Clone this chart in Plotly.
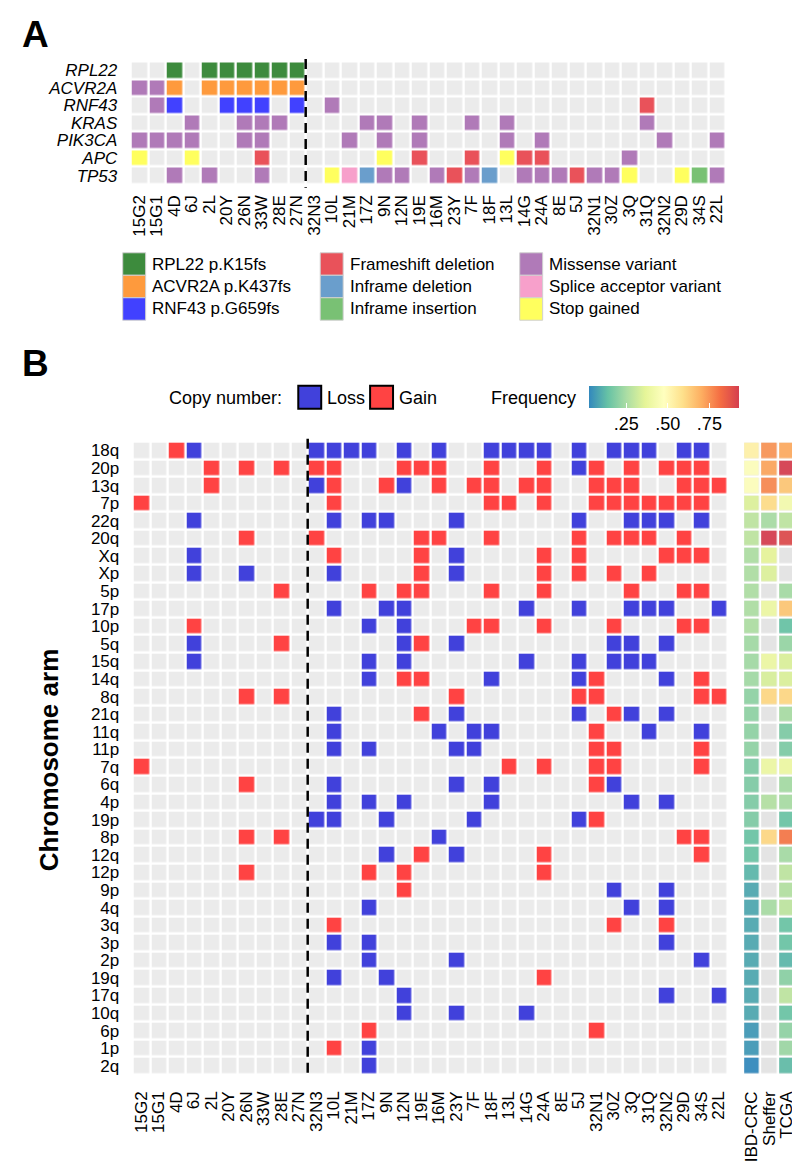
import numpy as np
import plotly.graph_objects as go

# ---------------- data ----------------
samples = ["15G2", "15G1", "4D", "6J", "2L", "20Y", "26N", "33W", "28E", "27N",
           "32N3", "10L", "21M", "17Z", "9N", "12N", "19E", "16M", "23Y", "7F",
           "18F", "13L", "14G", "24A", "8E", "5J", "32N1", "30Z", "3Q", "31Q",
           "32N2", "29D", "34S", "22L"]

genes = ["RPL22", "ACVR2A", "RNF43", "KRAS", "PIK3CA", "APC", "TP53"]

mutation_types = ["RPL22 p.K15fs", "ACVR2A p.K437fs", "RNF43 p.G659fs",
                  "Frameshift deletion", "Inframe deletion", "Inframe insertion",
                  "Missense variant", "Splice acceptor variant", "Stop gained"]
mutation_codes = "RANFDIMSX"   # one code letter per mutation type, '.' = none
mutation_colors = ["#3d8b3d", "#fe9a3d", "#4141ff", "#e9525a", "#6a9ecc",
                   "#79c174", "#b07ab8", "#f7a0cb", "#ffff5e"]

# one character per sample (groups of 10 separated by spaces)
mutations = {
    "RPL22":  "..R.RRRRRR .......... .......... ....",
    "ACVR2A": "MMA.AAAAAA .......... .......... ....",
    "RNF43":  ".MN..NNN.N .M........ .........F ....",
    "KRAS":   "...M..MMM. ...MM.M..M .M.......M ....",
    "PIK3CA": "MMMM..MM.. ..M.M.M... .M.M...... M..M",
    "APC":    "X..X...F.. ....X.F..F .XFF....M. ....",
    "TP53":   "..M.M..M.. .XSDMM.MFM D.MMMFMMX. .XIM",
}

arms = ["18q", "20p", "13q", "7p", "22q", "20q", "Xq", "Xp", "5p", "17p", "10p", "5q",
        "15q", "14q", "8q", "21q", "11q", "11p", "7q", "6q", "4p", "19p", "8p", "12q",
        "12p", "9p", "4q", "3q", "3p", "2p", "19q", "17q", "10q", "6p", "1p", "2q"]

# L = loss, G = gain, '.' = neutral ; one character per sample
copy_number = {
    "18q": "..GL...... LLLL.L.L.. LLLL.L.LLL .LL.",
    "20p": "....G.G.G. GG...GGG.. G..G.LG.G. GGG.",
    "13q": "....G..... LG..GL.G.G G.GG..GGG. .GGG",
    "7p":  "G......... .G........ GG.G..GGGG GGG.",
    "22q": "...L...... .L.LL...L. .....L..LL L.L.",
    "20q": "......G... G.....GG.. G....G.GGG .G..",
    "Xq":  "...L...... .G....G.L. ...G.G.... GGG.",
    "Xp":  "...L..L... .L....G.L. ...G.G.G.G ....",
    "5p":  "........G. ...G.GG... G..G....G. .GG.",
    "17p": ".......... .L..LL.... ..L..L..LL L..L",
    "10p": "...G...... ...L.L...G G..G...G.. .GG.",
    "5q":  "...L....G. .....LG.L. .......LL. L...",
    "15q": "...L...... ...L.L.... ..L..L.LLL ....",
    "14q": ".......... ...L.GG... L....LG... L.G.",
    "8q":  "......G.G. ........G. .....GG... ..GG",
    "21q": ".......... .L....G.L. .....L.GL. L...",
    "11q": ".......... .L.....L.L L.....G..L ..L.",
    "11p": ".......... .L.L....LL ......GG.. ..G.",
    "7q":  "G......... .......... .G.G..GG.. ..G.",
    "6q":  "......G... .L......L. L.....GL.. ....",
    "4p":  ".......... .L.L.L.... L.......L. L...",
    "19p": ".......... LL..L....L .....LG... ....",
    "8p":  "......G.G. .......L.. .......... .GG.",
    "12q": ".......... ....L.G.L. ...G...... ..G.",
    "12p": "......G... ...G.G.... ...G...... ....",
    "9p":  ".......... .....G.... .......L.. L...",
    "4q":  ".......... ...L...... ........L. L...",
    "3q":  ".......... .G........ .......G.. G...",
    "3p":  ".......... .L.L...... .......... L...",
    "2p":  ".......... ...L....L. .......... ..L.",
    "19q": ".......... .L..L..... ...G...... ....",
    "17q": ".......... .....L.... .......... L..L",
    "10q": ".......... .....L..L. ..L....... ....",
    "6p":  ".......... ...G...... ......G... ....",
    "1p":  ".......... .G.L...... .......... ....",
    "2q":  ".......... ...L...... .......... ....",
}

cohorts = ["IBD-CRC", "Sheffer", "TCGA"]
freq_ibd = [0.53, 0.47, 0.47, 0.35, 0.29, 0.29, 0.26, 0.26, 0.26, 0.26, 0.26, 0.24,
            0.24, 0.24, 0.21, 0.21, 0.21, 0.21, 0.18, 0.18, 0.18, 0.18, 0.15, 0.15,
            0.12, 0.09, 0.09, 0.09, 0.09, 0.09, 0.09, 0.09, 0.09, 0.06, 0.06, 0.03]
freq_sheffer = [0.75, 0.72, 0.77, 0.60, 0.25, 0.93, 0.37, 0.35, None, 0.40, None, None,
                0.40, 0.34, 0.61, None, None, None, 0.40, None, 0.27, None, 0.61, None,
                None, None, 0.25, None, None, None, None, None, None, None, None, None]
freq_tcga = [0.71, 0.93, 0.65, 0.43, 0.29, 0.90, None, None, 0.245, 0.65, 0.145, 0.22,
             0.345, 0.345, 0.61, 0.25, 0.18, 0.18, 0.40, 0.245, 0.25, 0.15, 0.80, 0.245,
             0.29, 0.27, 0.29, 0.15, 0.15, 0.12, 0.20, 0.29, 0.15, 0.21, 0.23, 0.13]

empty_color = "#ebebeb"
na_color = "#e4e4e4"
loss_color = "#4141db"
gain_color = "#ff4343"
spectral = ["#3288BD", "#66C2A5", "#ABDDA4", "#E6F598", "#FFFFBF",
            "#FEE08B", "#FDAE61", "#F46D43", "#D53E4F"]
freq_min, freq_max = 0.029, 0.93

FONT = "Liberation Sans, Arial, Helvetica, sans-serif"
W, H = 800, 1162


def P(px):
    return px / W


def Q(py):
    return 1 - py / H


def discrete_scale(colors):
    n = len(colors)
    cs = []
    for i, c in enumerate(colors):
        cs.append([i / n, c])
        cs.append([(i + 1) / n, c])
    return cs


# ---------------- matrices ----------------
zA = [[0 if ch == "." else 1 + mutation_codes.index(ch)
       for ch in mutations[g].replace(" ", "")] for g in genes]
cn_map = {".": 0, "L": 1, "G": 2}
zB = [[cn_map[ch] for ch in copy_number[a].replace(" ", "")] for a in arms]
zF = [[np.nan if v is None else v for v in row]
      for row in zip(freq_ibd, freq_sheffer, freq_tcga)]

fig = go.Figure()

colorsA = [empty_color] + mutation_colors
fig.add_trace(go.Heatmap(
    x=samples, y=genes, z=zA, xaxis="x", yaxis="y",
    colorscale=discrete_scale(colorsA), zmin=-0.5, zmax=len(colorsA) - 0.5,
    showscale=False, xgap=2.5, ygap=2.5, hoverinfo="skip"))

colorsB = [empty_color, loss_color, gain_color]
fig.add_trace(go.Heatmap(
    x=samples, y=arms, z=zB, xaxis="x2", yaxis="y2",
    colorscale=discrete_scale(colorsB), zmin=-0.5, zmax=2.5,
    showscale=False, xgap=2.5, ygap=2.5, hoverinfo="skip"))

fig.add_trace(go.Heatmap(
    x=cohorts, y=arms, z=[[0, 0, 0] for _ in arms], xaxis="x3", yaxis="y3",
    colorscale=[[0, na_color], [1, na_color]], showscale=False,
    xgap=2.5, ygap=2.5, hoverinfo="skip"))

fig.add_trace(go.Heatmap(
    x=cohorts, y=arms, z=zF, xaxis="x3", yaxis="y3",
    colorscale=[[i / (len(spectral) - 1), c] for i, c in enumerate(spectral)],
    zmin=freq_min, zmax=freq_max, opacity=0.93,
    xgap=2.5, ygap=2.5, hoverinfo="skip",
    colorbar=dict(orientation="h", lenmode="pixels", len=150,
                  thicknessmode="pixels", thickness=22,
                  x=P(657), xanchor="center", y=Q(378), yanchor="top",
                  xpad=0, ypad=0, outlinewidth=0,
                  tickvals=[0.25, 0.50, 0.75], ticktext=[".25", ".50", ".75"],
                  ticks="inside", ticklen=5, tickcolor="white", tickwidth=1,
                  tickfont=dict(size=18, color="black", family=FONT))))

axis_common = dict(showgrid=False, zeroline=False, showline=False, type="category",
                   tickmode="linear", tick0=0, dtick=1,
                   ticks="outside", tickcolor="rgba(0,0,0,0)", fixedrange=True)

fig.update_layout(
    width=W, height=H,
    margin=dict(l=0, r=0, t=0, b=0),
    paper_bgcolor="white", plot_bgcolor="white",
    font=dict(family=FONT, color="black"),
    showlegend=False,
    xaxis=dict(domain=[P(122), P(718.5)], anchor="y", tickangle=-90, ticklen=3,
               tickfont=dict(size=17), **axis_common),
    yaxis=dict(domain=[Q(176.5), Q(53.5)], anchor="x", autorange="reversed", ticklen=9,
               tickfont=dict(size=17, style="italic"), **axis_common),
    xaxis2=dict(domain=[P(124), P(720.5)], anchor="y2", tickangle=-90, ticklen=9,
                tickfont=dict(size=17), **axis_common),
    yaxis2=dict(domain=[Q(1067.5), Q(434)], anchor="x2", autorange="reversed", ticklen=9,
                tickfont=dict(size=17), **axis_common),
    xaxis3=dict(domain=[P(736), P(788.5)], anchor="y3", tickangle=-90, ticklen=9,
                tickfont=dict(size=17), **axis_common),
    yaxis3=dict(domain=[Q(1067.5), Q(434)], anchor="x3", autorange="reversed",
                showticklabels=False, **axis_common),
)

# dashed separators between hypermutated and other samples
fig.add_shape(type="line", xref="x", yref="paper", x0=9.5, x1=9.5, y0=Q(51), y1=Q(180),
              line=dict(color="black", width=2.5, dash="10px,6px"))
fig.add_shape(type="line", xref="x2", yref="paper", x0=9.5, x1=9.5, y0=Q(431), y1=Q(1071),
              line=dict(color="black", width=2.5, dash="10px,6px"))

annotations = []
# panel letters
annotations.append(dict(text="<b>A</b>", x=P(11), y=Q(27), xanchor="left", yanchor="middle",
                        font=dict(size=37)))
annotations.append(dict(text="<b>B</b>", x=P(11), y=Q(356), xanchor="left", yanchor="middle",
                        font=dict(size=37)))

# legend of panel A
key_cols = [114, 312, 512]
key_rows = [(245, 267.5), (267.5, 290), (290, 312.5)]
for i, (label, color) in enumerate(zip(mutation_types, mutation_colors)):
    cx = key_cols[i // 3]
    ry0, ry1 = key_rows[i % 3]
    fig.add_shape(type="rect", xref="paper", yref="paper",
                  x0=P(cx), x1=P(cx + 23), y0=Q(ry1), y1=Q(ry0),
                  fillcolor=color, line=dict(color="#d0d0d0", width=1))
    annotations.append(dict(text=label, x=P(cx + 27.5), y=Q((ry0 + ry1) / 2),
                            xanchor="left", yanchor="middle", font=dict(size=17)))

# legend of panel B
annotations.append(dict(text="Copy number:", x=P(276), y=Q(390), xanchor="right",
                        yanchor="middle", font=dict(size=18)))
for x0, color, label in [(290, loss_color, "Loss"), (362, gain_color, "Gain")]:
    fig.add_shape(type="rect", xref="paper", yref="paper",
                  x0=P(x0), x1=P(x0 + 23), y0=Q(401), y1=Q(378),
                  fillcolor=color, line=dict(color="black", width=2))
    annotations.append(dict(text=label, x=P(x0 + 27), y=Q(390), xanchor="left",
                            yanchor="middle", font=dict(size=18)))
annotations.append(dict(text="Frequency", x=P(570), y=Q(390), xanchor="right",
                        yanchor="middle", font=dict(size=18)))

# y title of panel B
annotations.append(dict(text="<b>Chromosome arm</b>", x=P(40), y=Q(752), textangle=-90,
                        xanchor="center", yanchor="middle", font=dict(size=26)))

for a in annotations:
    a.update(xref="paper", yref="paper", showarrow=False)
fig.update_layout(annotations=annotations)

fig.write_html("out.html")
